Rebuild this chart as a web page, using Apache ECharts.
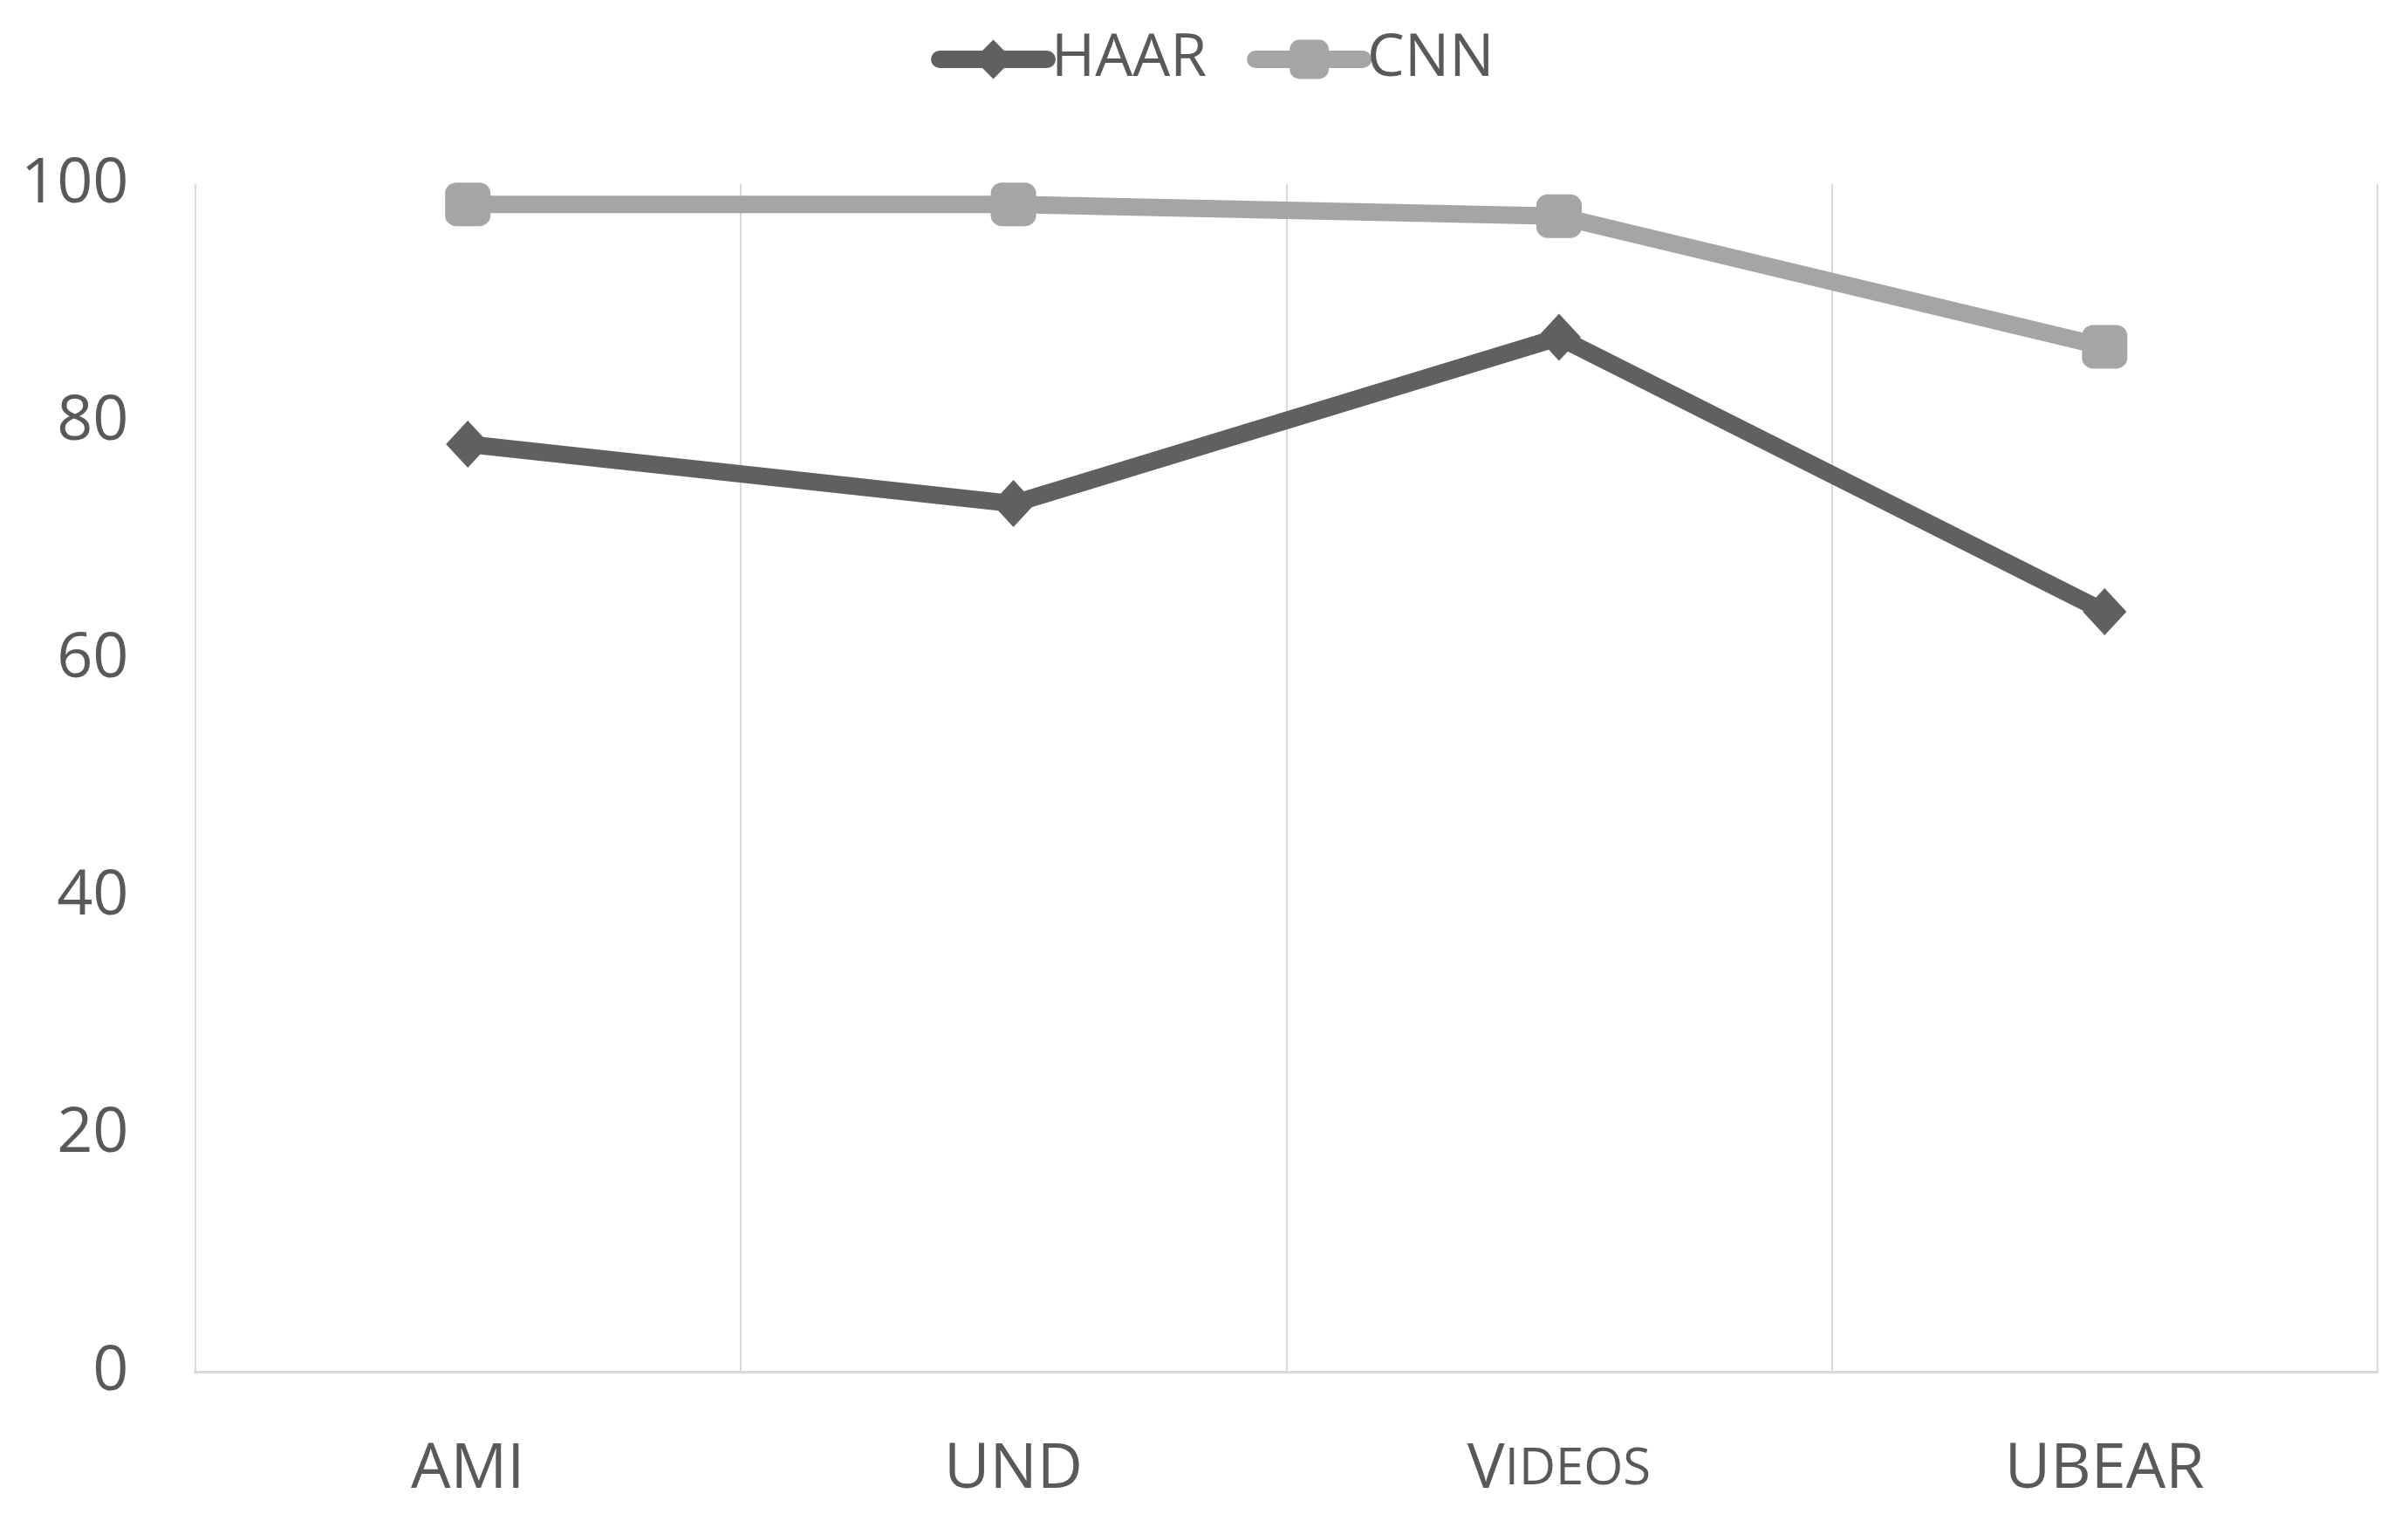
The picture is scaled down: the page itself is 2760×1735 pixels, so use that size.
<!DOCTYPE html>
<html>
<head>
<meta charset="utf-8">
<script src="https://cdn.jsdelivr.net/npm/echarts@6/dist/echarts.min.js"></script>
<style>
html,body{margin:0;padding:0;background:#fff;}
#chart{width:2760px;height:1735px;}
</style>
</head>
<body>
<div id="chart"></div>
<script>
const categories = ['AMI', 'UND', 'Videos', 'UBEAR'];
const haar = [78.1, 73.1, 87.1, 64.0];
const cnn = [98.3, 98.3, 97.3, 86.3];
const yTicks = [0, 20, 40, 60, 80, 100];

const FONT = '"Open Sans", "Noto Sans", sans-serif';
const TXT = '#595959';
const GRID = '#d9d9d9';

const chart = echarts.init(document.getElementById('chart'), null, {renderer: 'canvas'});
chart.setOption({
  backgroundColor: '#ffffff',
  animation: false,
  textStyle: {fontFamily: FONT, color: TXT},
  legend: {
    left: 1062,
    top: 29,
    itemWidth: 123,
    itemHeight: 56,
    itemGap: 46,
    lineStyle: {width: 20, cap: 'round'},
    textStyle: {fontFamily: FONT, fontSize: 68, color: TXT},
    data: ['HAAR', 'CNN']
  },
  grid: {left: 223.5, right: 35, top: 211, bottom: 163, containLabel: false},
  xAxis: {
    type: 'category',
    data: categories,
    boundaryGap: true,
    axisLine: {show: true, lineStyle: {color: GRID, width: 3}},
    axisTick: {show: false},
    splitLine: {show: true, interval: 0, lineStyle: {color: GRID, width: 2}},
    axisLabel: {
      interval: 0,
      margin: 76,
      fontFamily: FONT,
      fontSize: 72,
      color: TXT,
      formatter: function (v) {
        if (v === 'Videos') return '{big|V}{small|IDEOS}';
        return '{big|' + v + '}';
      },
      rich: {
        big: {fontFamily: FONT, fontSize: 72, color: TXT},
        small: {fontFamily: FONT, fontSize: 58, color: TXT}
      }
    }
  },
  yAxis: {
    type: 'value',
    min: yTicks[0],
    max: yTicks[yTicks.length - 1],
    interval: 20,
    axisLine: {show: false},
    axisTick: {show: false},
    splitLine: {show: false},
    axisLabel: {margin: 76, fontFamily: FONT, fontSize: 72, color: TXT}
  },
  series: [
    {
      name: 'HAAR',
      type: 'line',
      data: haar,
      symbol: 'diamond',
      symbolSize: [50, 54],
      lineStyle: {color: '#606060', width: 20, join: 'round'},
      itemStyle: {color: '#606060'},
      z: 3
    },
    {
      name: 'CNN',
      type: 'line',
      data: cnn,
      symbol: 'roundRect',
      symbolSize: [52, 50],
      lineStyle: {color: '#a5a5a5', width: 20, join: 'round'},
      itemStyle: {color: '#a5a5a5'},
      z: 2
    }
  ]
});
</script>
</body>
</html>
